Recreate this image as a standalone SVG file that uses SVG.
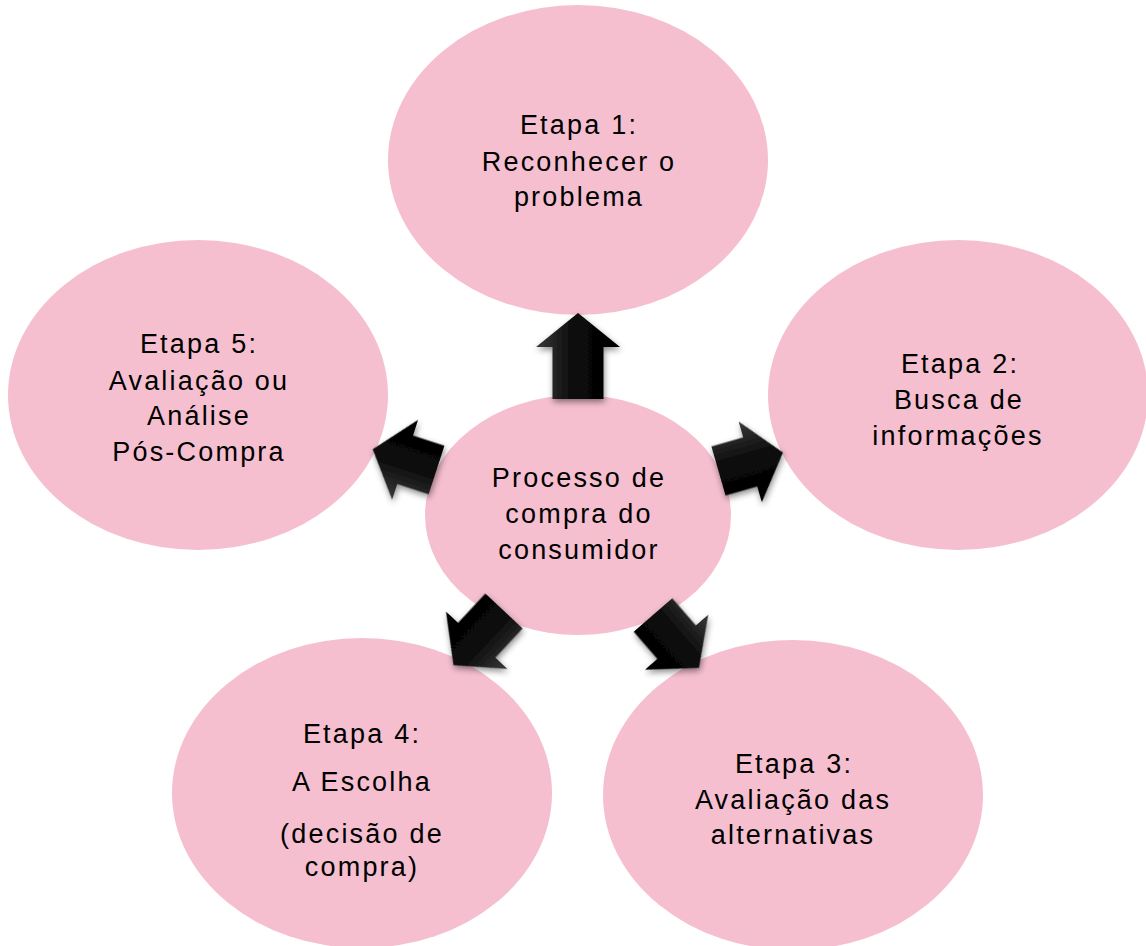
<svg xmlns="http://www.w3.org/2000/svg" width="1146" height="946" viewBox="0 0 1146 946">
  <defs>
    <style>
      .node { fill: #F5BFD0; }
      .label { font-family: "Liberation Sans", Arial, sans-serif; font-size: 27px; fill: #000; text-anchor: middle; letter-spacing: 2.2px; }
      .arrow { fill: url(#arrowFill); }
    </style>
    <linearGradient id="arrowFill" x1="0" y1="0" x2="1" y2="0">
      <stop offset="0" stop-color="#3a3a3a"/>
      <stop offset="0.45" stop-color="#0a0a0a"/>
      <stop offset="1" stop-color="#000"/>
    </linearGradient>
    <filter id="shadow" x="-20%" y="-20%" width="140%" height="140%">
      <feDropShadow dx="1" dy="3" stdDeviation="3" flood-color="#000" flood-opacity="0.45"/>
    </filter>
  </defs>

  <rect width="1146" height="946" fill="#fff"/>

  <g id="etapa1">
    <ellipse class="node" cx="578" cy="160" rx="190" ry="155"/>
    <text class="label" x="579" y="134">Etapa 1:</text>
    <text class="label" x="579" y="171">Reconhecer o</text>
    <text class="label" x="579" y="206">problema</text>
  </g>

  <g id="etapa2">
    <ellipse class="node" cx="958" cy="395" rx="190" ry="155"/>
    <text class="label" x="960" y="373">Etapa 2:</text>
    <text class="label" x="959" y="409">Busca de</text>
    <text class="label" x="958" y="445">informações</text>
  </g>

  <g id="etapa3">
    <ellipse class="node" cx="793" cy="795" rx="190" ry="155"/>
    <text class="label" x="794" y="773">Etapa 3:</text>
    <text class="label" x="793" y="809">Avaliação das</text>
    <text class="label" x="793" y="844">alternativas</text>
  </g>

  <g id="etapa4">
    <ellipse class="node" cx="362" cy="793" rx="190" ry="155"/>
    <text class="label" x="362" y="743">Etapa 4:</text>
    <text class="label" x="362" y="791">A Escolha</text>
    <text class="label" x="362" y="843">(decisão de</text>
    <text class="label" x="362" y="876">compra)</text>
  </g>

  <g id="etapa5">
    <ellipse class="node" cx="198" cy="395" rx="190" ry="155"/>
    <text class="label" x="199" y="353">Etapa 5:</text>
    <text class="label" x="199" y="390">Avaliação ou</text>
    <text class="label" x="199" y="425">Análise</text>
    <text class="label" x="199" y="461">Pós-Compra</text>
  </g>

  <g id="processo">
    <ellipse class="node" cx="578" cy="515" rx="153" ry="120"/>
    <text class="label" x="579" y="487">Processo de</text>
    <text class="label" x="579" y="523">compra do</text>
    <text class="label" x="579" y="559">consumidor</text>
  </g>

  <!-- block arrows pointing from the centre out to each stage; local shape points up from its back edge -->
  <g id="connectors" filter="url(#shadow)">
    <path class="arrow" transform="translate(578,399)" d="M-25.5,0 L-25.5,-52 L-42,-52 L0,-86 L42,-52 L25.5,-52 L25.5,0 Z"/>
    <path class="arrow" transform="translate(718.5,471) rotate(74)" d="M-25.5,0 L-25.5,-33 L-42,-33 L0,-67 L42,-33 L25.5,-33 L25.5,0 Z"/>
    <path class="arrow" transform="translate(436.5,470) rotate(-72)" d="M-25.5,0 L-25.5,-33 L-42,-33 L0,-67 L42,-33 L25.5,-33 L25.5,0 Z"/>
    <path class="arrow" transform="translate(504,611) rotate(-137)" d="M-25.5,0 L-25.5,-40 L-42,-40 L0,-74 L42,-40 L25.5,-40 L25.5,0 Z"/>
    <path class="arrow" transform="translate(653,615) rotate(139)" d="M-25.5,0 L-25.5,-36 L-42,-36 L0,-70 L42,-36 L25.5,-36 L25.5,0 Z"/>
  </g>
</svg>
